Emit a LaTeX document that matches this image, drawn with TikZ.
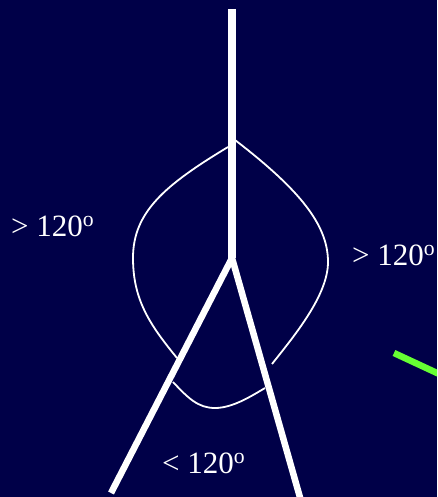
\documentclass[tikz,border=0pt]{standalone}
\usepackage{fontspec}
\setmainfont{Liberation Serif}
\usetikzlibrary{positioning}
\definecolor{nightblue}{HTML}{000048}
\definecolor{limegreen}{HTML}{66FF33}

\begin{document}
\begin{tikzpicture}[x=1pt, y=-1pt,
    stem/.style={white, line width=7.5pt},
    leg/.style={white, line width=6.5pt},
    rim/.style={white, line width=1.8pt},
    anglab/.style={text=white, font=\fontsize{31}{36}\selectfont, inner sep=0pt, anchor=base west}
  ]
  % background
  \fill[nightblue] (0,0) rectangle (437,497);
  \useasboundingbox (0,0) rectangle (437,497);
  \clip (0,0) rectangle (437,497);

  % key points
  \coordinate (top) at (232, 9);
  \coordinate (apex) at (232, 258);
  \coordinate (lfoot) at (111, 493);
  \coordinate (rfoot) at (303, 508);

  % thin outline, in three pieces
  \draw[rim] (228,147) .. controls (165,185) and (133,212) .. (133,258)
    .. controls (133,300) and (150,325) .. (177,358);
  \draw[rim] (173,382) .. controls (188,398) and (198,408) .. (215,408)
    .. controls (232,408) and (250,397) .. (265,388);
  \draw[rim] (235,140) .. controls (300,190) and (328,225) .. (328,262)
    .. controls (328,295) and (295,335) .. (272,364);

  % thick lines
  \draw[stem] (top) -- (apex);
  \draw[leg] (apex) -- (lfoot);
  \draw[leg] (apex) -- (rfoot);

  % green stroke at the edge
  \coordinate (g1) at (394, 353);
  \coordinate (g2) at (480, 393);
  \draw[limegreen, line width=6.5pt] (g1) -- (g2);

  % labels
  \node[anglab] (left) at (11, 236) {> 120\textsuperscript{o}};
  \node[anglab] (right) at (352, 265) {> 120\textsuperscript{o}};
  \node[anglab] (bottom) at (162, 473) {< 120\textsuperscript{o}};
\end{tikzpicture}
\end{document}
